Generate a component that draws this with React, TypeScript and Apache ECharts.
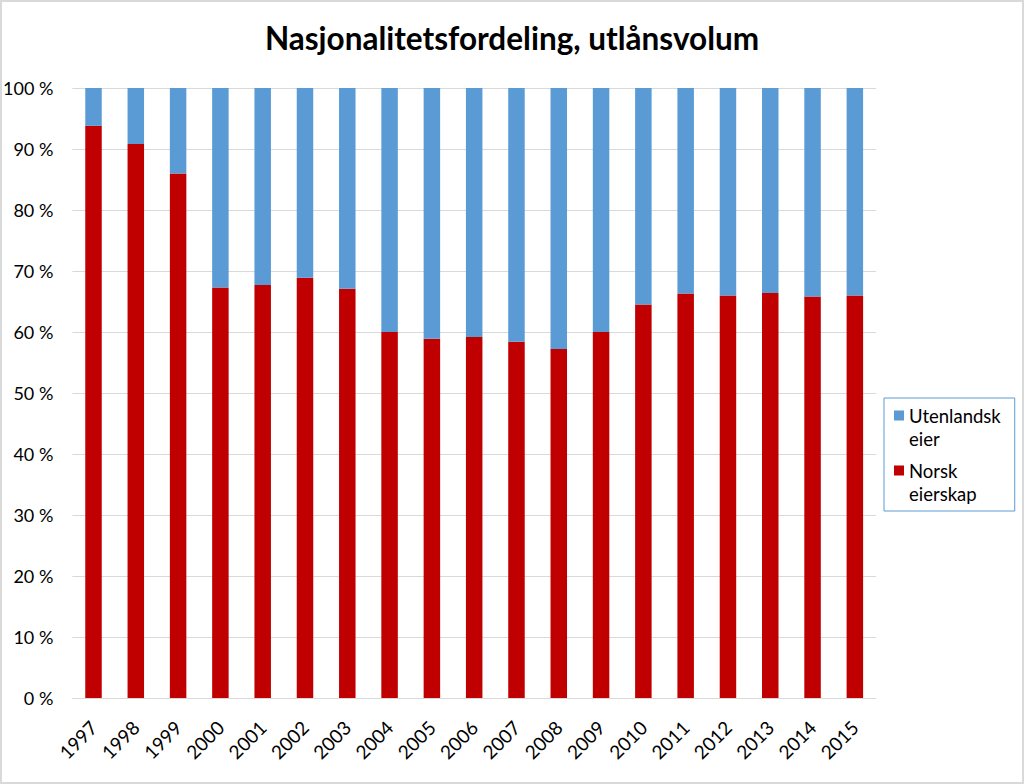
import React, { useEffect, useRef } from "react";
import * as echarts from "echarts";

const years = ["1997","1998","1999","2000","2001","2002","2003","2004","2005","2006","2007","2008","2009","2010","2011","2012","2013","2014","2015"];
const norsk = [93.8, 90.8, 86.0, 67.3, 67.7, 68.9, 67.1, 60.0, 58.9, 59.2, 58.4, 57.2, 60.0, 64.5, 66.3, 66.0, 66.4, 65.8, 66.0];
const utenlandsk = [6.2, 9.2, 14.0, 32.7, 32.3, 31.1, 32.9, 40.0, 41.1, 40.8, 41.6, 42.8, 40.0, 35.5, 33.7, 34.0, 33.6, 34.2, 34.0];
const yTicks = [0, 10, 20, 30, 40, 50, 60, 70, 80, 90, 100];

const FONT = "Lato";

export default function App() {
  const ref = useRef<HTMLDivElement>(null);
  useEffect(() => {
    document.body.style.margin = "0";
    const chart = echarts.init(ref.current!, null, { renderer: "svg" });
    chart.setOption({
      animation: false,
      backgroundColor: "#ffffff",
      title: {
        text: "Nasjonalitetsfordeling, utlånsvolum",
        left: "center",
        top: 17,
        textStyle: { fontFamily: FONT, fontSize: 31.5, fontWeight: "bold", color: "#000" },
      },
      legend: {
        orient: "vertical",
        left: 884,
        top: 398,
        padding: [6, 14, 6, 10],
        itemGap: 9,
        borderColor: "#5B9BD5",
        borderWidth: 1,
        icon: "path://M0,0L10,0L10,10L0,10Z M0,33L0.01,33L0.01,33.01L0,33.01Z",
        itemWidth: 10,
        itemHeight: 34,
        data: ["Utenlandsk eier", "Norsk eierskap"],
        formatter: (name: string) => name.replace(" ", "\n"),
        textStyle: { fontFamily: FONT, fontSize: 18.5, color: "#000", lineHeight: 23 },
      },
      grid: { left: 72, right: 148, top: 88, bottom: 86 },
      xAxis: {
        type: "category",
        data: years,
        axisLine: { lineStyle: { color: "#D9D9D9", width: 1 } },
        axisTick: { show: false },
        axisLabel: { rotate: 45, fontFamily: FONT, fontSize: 19, color: "#000", margin: 26, interval: 0 },
      },
      yAxis: {
        type: "value",
        min: 0,
        max: 100,
        interval: 10,
        axisLine: { show: false },
        axisTick: { show: false },
        splitLine: { lineStyle: { color: "#D9D9D9", width: 1 } },
        axisLabel: {
          fontFamily: FONT,
          fontSize: 18,
          color: "#000",
          margin: 19,
          formatter: (v: number) => (yTicks.includes(v) ? v + " %" : ""),
        },
      },
      series: [
        {
          name: "Norsk eierskap",
          type: "bar",
          stack: "total",
          barWidth: "39%",
          itemStyle: { color: "#C00000" },
          data: norsk,
        },
        {
          name: "Utenlandsk eier",
          type: "bar",
          stack: "total",
          barWidth: "39%",
          itemStyle: { color: "#5B9BD5" },
          data: utenlandsk,
        },
      ],
    });
    return () => chart.dispose();
  }, []);
  return (
    <div style={{ position: "relative", width: 1024, height: 784 }}>
      <div ref={ref} style={{ width: 1024, height: 784 }} />
      <div
        style={{
          position: "absolute",
          left: 0,
          top: 0,
          width: 1024,
          height: 784,
          boxSizing: "border-box",
          border: "2px solid #D9D9D9",
          pointerEvents: "none",
        }}
      />
    </div>
  );
}
